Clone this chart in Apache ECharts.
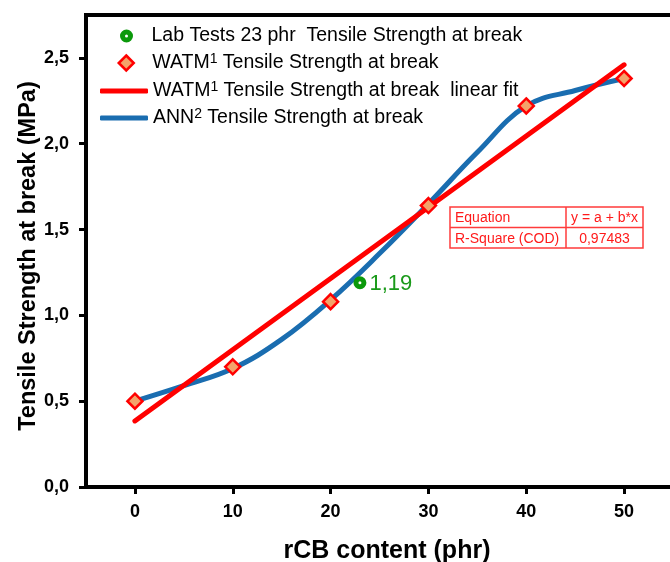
<!DOCTYPE html>
<html>
<head>
<meta charset="utf-8">
<script src="https://cdn.jsdelivr.net/npm/echarts@6/dist/echarts.min.js"></script>
<style>
  html, body { margin: 0; padding: 0; background: #fff; }
  #myChart { width: 670px; height: 562px; }
</style>
</head>
<body>
<div id="myChart"></div>
<script>
    // data
    var watmX = [0, 10, 20, 30, 40, 50];
    var watmY = [0.50, 0.70, 1.08, 1.64, 2.22, 2.38];

    var fitX = [0, 50];
    var fitY = [0.385, 2.46];

    var annX = [0, 5, 10, 15, 20, 25, 30, 35, 40, 45, 50];
    var annY = [0.50, 0.59, 0.69, 0.86, 1.09, 1.36, 1.65, 1.95, 2.22, 2.31, 2.38];

    var labX = [23];
    var labY = [1.19];

    var xTicks = [0, 10, 20, 30, 40, 50];
    var yTicks = [0, 0.5, 1.0, 1.5, 2.0, 2.5];

    var fitTable = [
        ['Equation', 'y = a + b*x'],
        ['R-Square (COD)', '0,97483']
    ];

    var names = [
        'Lab Tests 23 phr  Tensile Strength at break',
        'WATM1 Tensile Strength at break',
        'WATM1 Tensile Strength at break  linear fit',
        'ANN2 Tensile Strength at break'
    ];

    var FONT = '"Liberation Sans", Arial, sans-serif';
    var RED = '#ff0000';
    var BLUE = '#1a6db0';
    var GREEN = '#0b990b';
    var ORANGE = '#f4a36a';

    function pairs(xs, ys) {
        var out = [];
        for (var i = 0; i < xs.length; i++) { out.push([xs[i], ys[i]]); }
        return out;
    }

    var legendRows = [35, 62, 90, 117];

    // icon setup of each legend row (symbols are centred on x=125, text starts at x=153)
    var legendIcons = [
        { icon: 'circle', w: 8, h: 8, left: 120, gap: 16, style: { color: '#fff', borderColor: GREEN, borderWidth: 5 } },
        { icon: 'diamond', w: 15, h: 15, left: 117.5, gap: 13.5, style: { color: ORANGE, borderColor: RED, borderWidth: 2.5 } },
        { icon: 'roundRect', w: 48, h: 5, left: 100, gap: 0, style: { color: RED, borderWidth: 0 } },
        { icon: 'roundRect', w: 48, h: 5, left: 100, gap: 0, style: { color: BLUE, borderWidth: 0 } }
    ];

    function makeLegend(i) {
        var ic = legendIcons[i];
        return {
            data: [{ name: names[i], icon: ic.icon, itemStyle: ic.style }],
            left: ic.left,
            top: legendRows[i] - 10,
            padding: 0,
            itemWidth: ic.w,
            itemHeight: ic.h,
            selectedMode: false,
            formatter: function (name) {
                // superscript after WATM / ANN
                var t = name.replace(/^(WATM|ANN)(\d)/, '$1{s|$2}');
                return ic.gap ? '{g|}' + t : t;
            },
            textStyle: {
                fontFamily: FONT,
                fontSize: 19.5,
                color: '#000',
                lineHeight: 22,
                rich: {
                    s: { fontFamily: FONT, fontSize: 14, lineHeight: 16, verticalAlign: 'top', color: '#000' },
                    g: { width: ic.gap }
                }
            }
        };
    }

    function tableGraphic() {
        var x0 = 450, y0 = 207, c1 = 116, c2 = 77, rh = 20.5;
        var children = [];
        var lineStyle = { stroke: '#ff3b3b', lineWidth: 1.5, fill: null };
        children.push({ type: 'rect', shape: { x: x0, y: y0, width: c1 + c2, height: rh * 2 }, style: lineStyle });
        children.push({ type: 'line', shape: { x1: x0, y1: y0 + rh, x2: x0 + c1 + c2, y2: y0 + rh }, style: lineStyle });
        children.push({ type: 'line', shape: { x1: x0 + c1, y1: y0, x2: x0 + c1, y2: y0 + rh * 2 }, style: lineStyle });
        for (var r = 0; r < fitTable.length; r++) {
            children.push({
                type: 'text',
                style: { text: fitTable[r][0], x: x0 + 5, y: y0 + rh * r + rh / 2 + 1, verticalAlign: 'middle',
                    fill: '#ff1a1a', font: '14px ' + FONT }
            });
            children.push({
                type: 'text',
                style: { text: fitTable[r][1], x: x0 + c1 + c2 / 2, y: y0 + rh * r + rh / 2 + 1, align: 'center',
                    verticalAlign: 'middle', fill: '#ff1a1a', font: '14px ' + FONT }
            });
        }
        return [{ type: 'group', children: children, z: 100 }];
    }

    var myChart = echarts.init(document.getElementById('myChart'));

    var option = {
        backgroundColor: '#fff',
        animation: false,
        grid: {
            left: 86, right: -3, top: 15, bottom: 75,
            outerBoundsMode: 'none',
            show: true, borderColor: '#000', borderWidth: 4
        },
        legend: [makeLegend(0), makeLegend(1), makeLegend(2), makeLegend(3)],
        xAxis: {
            type: 'value',
            min: -5, max: 55,
            name: 'rCB content (phr)',
            nameLocation: 'middle',
            nameGap: 52,
            nameTextStyle: { fontFamily: FONT, fontWeight: 'bold', fontSize: 25, color: '#000', padding: [0, 0, 0, 15] },
            splitLine: { show: false },
            axisLine: { onZero: false, lineStyle: { color: '#000', width: 4 } },
            axisTick: { customValues: xTicks, length: 7, lineStyle: { color: '#000', width: 3 } },
            axisLabel: {
                customValues: xTicks, margin: 16,
                fontFamily: FONT, fontWeight: 'bold', fontSize: 18, color: '#000'
            }
        },
        yAxis: {
            type: 'value',
            min: 0, max: 2.75,
            name: 'Tensile Strength at break (MPa)',
            nameLocation: 'middle',
            nameGap: 45,
            nameMoveOverlap: false,
            nameTextStyle: { fontFamily: FONT, fontWeight: 'bold', fontSize: 23.5, color: '#000', padding: [0, 10, 0, 0] },
            splitLine: { show: false },
            axisLine: { onZero: false, lineStyle: { color: '#000', width: 4 } },
            axisTick: { customValues: yTicks, length: 7, lineStyle: { color: '#000', width: 3 } },
            axisLabel: {
                customValues: yTicks, margin: 17,
                fontFamily: FONT, fontWeight: 'bold', fontSize: 18, color: '#000',
                formatter: function (v) { return v.toFixed(1).replace('.', ','); }
            }
        },
        series: [
            {
                name: names[3],
                type: 'line',
                data: pairs(annX, annY),
                smooth: 0.4,
                showSymbol: false,
                symbol: 'none',
                lineStyle: { color: BLUE, width: 5 },
                itemStyle: { color: BLUE },
                z: 2
            },
            {
                name: names[2],
                type: 'line',
                data: pairs(fitX, fitY),
                showSymbol: false,
                symbol: 'none',
                lineStyle: { color: RED, width: 5, cap: 'round' },
                itemStyle: { color: RED },
                z: 3
            },
            {
                name: names[1],
                type: 'scatter',
                data: pairs(watmX, watmY),
                symbol: 'diamond',
                symbolSize: 15,
                itemStyle: { color: ORANGE, borderColor: RED, borderWidth: 2.5, opacity: 1 },
                z: 4
            },
            {
                name: names[0],
                type: 'scatter',
                data: pairs(labX, labY),
                symbol: 'circle',
                symbolSize: 8,
                itemStyle: { color: '#fff', borderColor: GREEN, borderWidth: 5, opacity: 1 },
                label: {
                    show: true, position: 'right', distance: 3, offset: [0, 1],
                    formatter: function (p) { return p.value[1].toFixed(2).replace('.', ','); },
                    fontFamily: FONT, fontSize: 22, color: '#1a9a1a'
                },
                z: 5
            }
        ],
        graphic: tableGraphic()
    };

    myChart.setOption(option);
</script>
</body>
</html>
